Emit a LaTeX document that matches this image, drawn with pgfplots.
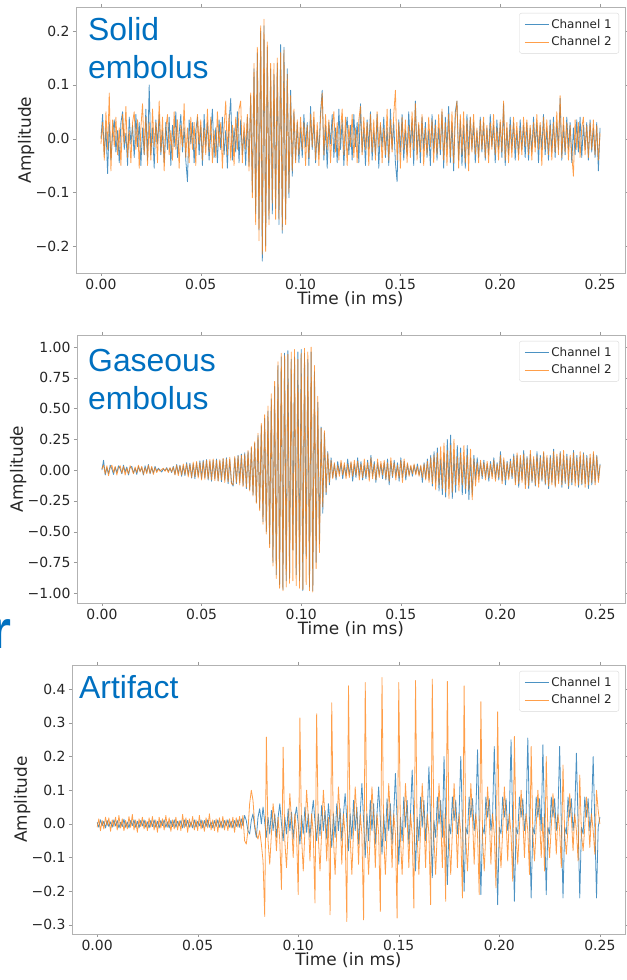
\documentclass[border=0pt]{standalone}
\usepackage{fontspec}
\setmainfont{DejaVu Sans}
\newfontfamily\arial{Liberation Sans}
\usepackage{pgfplots}
\usepackage{pgfplotstable}
\pgfplotsset{compat=1.18}

\definecolor{chone}{HTML}{1F77B4}
\definecolor{chtwo}{HTML}{FF7F0E}
\definecolor{noteblue}{HTML}{0070C0}

% columns: a = channel 1, b = channel 2; one row per sample, 1200 samples per ms
\pgfplotstableread[row sep=\\]{
a b\\
0.000 -0.010\\ 0.045 0.030\\ -0.030 -0.040\\ 0.020 0.050\\ -0.065 -0.020\\ 0.030 0.085\\ -0.040 -0.060\\ 0.010 0.035\\ 0.035 -0.015\\ -0.025 0.040\\
0.015 -0.030\\ -0.045 0.020\\ 0.030 -0.050\\ 0.050 0.045\\ -0.020 -0.010\\ 0.010 0.060\\ -0.050 -0.035\\ 0.040 0.015\\ -0.010 -0.045\\ 0.025 0.030\\
-0.035 0.050\\ 0.045 -0.020\\ -0.015 0.035\\ 0.030 -0.055\\ -0.050 0.020\\ 0.020 0.065\\ -0.030 -0.030\\ 0.055 0.040\\ -0.040 -0.050\\ 0.100 0.030\\
-0.030 -0.040\\ 0.020 0.055\\ -0.055 -0.015\\ 0.035 0.030\\ -0.010 -0.045\\ 0.045 0.070\\ -0.030 -0.025\\ 0.015 0.040\\ -0.045 -0.060\\ 0.030 0.020\\
-0.020 0.045\\ 0.040 -0.030\\ -0.050 0.015\\ 0.025 -0.040\\ -0.015 0.050\\ 0.050 -0.020\\ -0.035 0.035\\ 0.010 -0.055\\ 0.045 0.025\\ -0.025 -0.015\\
0.020 0.065\\ -0.040 -0.035\\ -0.080 0.020\\ 0.035 -0.045\\ -0.010 0.040\\ 0.030 -0.020\\ -0.045 0.030\\ 0.015 -0.050\\ 0.040 0.045\\ -0.030 -0.010\\
0.025 0.035\\ -0.050 -0.040\\ 0.045 0.020\\ -0.015 -0.030\\ 0.030 0.055\\ -0.040 -0.025\\ 0.010 0.040\\ 0.055 -0.045\\ -0.035 0.015\\ 0.020 -0.035\\
-0.045 0.050\\ 0.035 -0.015\\ -0.020 0.030\\ 0.040 -0.055\\ -0.030 0.020\\ 0.015 0.070\\ -0.055 -0.030\\ 0.030 0.045\\ 0.075 -0.040\\ -0.040 0.025\\
0.020 -0.050\\ -0.025 0.040\\ 0.050 -0.020\\ -0.045 0.055\\ 0.035 0.070\\ -0.030 -0.045\\ 0.015 0.030\\ -0.050 -0.020\\ 0.040 0.045\\ -0.050 -0.060\\
0.080 0.085\\ -0.100 -0.110\\ 0.130 0.140\\ -0.140 -0.160\\ 0.160 0.170\\ -0.170 -0.190\\ 0.200 0.210\\ -0.228 -0.215\\ 0.210 0.222\\ -0.200 -0.210\\
0.170 0.180\\ -0.150 -0.160\\ 0.130 0.140\\ -0.140 -0.120\\ 0.120 0.140\\ -0.130 -0.150\\ 0.140 0.150\\ -0.160 -0.150\\ 0.175 0.160\\ -0.176 -0.170\\
0.170 0.165\\ -0.150 -0.160\\ 0.130 0.120\\ -0.110 -0.100\\ 0.090 0.080\\ -0.070 -0.060\\ 0.050 0.055\\ -0.040 -0.045\\ 0.030 0.035\\ -0.045 -0.030\\
0.020 0.040\\ -0.035 -0.020\\ 0.045 0.030\\ -0.015 -0.050\\ 0.030 0.025\\ -0.050 -0.035\\ 0.060 0.045\\ -0.020 -0.015\\ 0.035 0.050\\ -0.045 -0.040\\
0.015 0.030\\ -0.030 -0.050\\ 0.050 0.040\\ 0.090 0.085\\ -0.040 -0.030\\ 0.025 0.045\\ -0.055 -0.020\\ 0.030 0.035\\ -0.010 -0.045\\ 0.045 0.020\\
-0.035 0.050\\ 0.020 -0.025\\ -0.045 0.030\\ 0.055 -0.040\\ -0.020 0.015\\ 0.035 0.055\\ -0.050 -0.030\\ 0.010 0.040\\ 0.040 -0.050\\ -0.030 0.025\\
0.025 -0.015\\ -0.040 0.045\\ 0.045 -0.035\\ -0.015 0.020\\ 0.030 -0.045\\ -0.045 0.035\\ 0.065 0.060\\ -0.025 -0.030\\ 0.020 0.040\\ -0.050 -0.020\\
0.035 0.030\\ -0.020 -0.050\\ 0.050 0.045\\ -0.040 -0.025\\ 0.015 0.035\\ -0.030 -0.040\\ 0.045 0.050\\ -0.055 -0.015\\ 0.025 0.030\\ -0.015 -0.045\\
0.040 0.020\\ -0.035 -0.030\\ 0.020 0.055\\ -0.050 -0.040\\ 0.055 0.035\\ -0.020 -0.025\\ 0.030 0.045\\ -0.045 0.090\\ -0.080 -0.040\\ 0.035 0.030\\
-0.025 -0.055\\ 0.045 0.040\\ -0.040 -0.020\\ 0.015 0.035\\ -0.030 -0.045\\ 0.050 0.025\\ -0.015 -0.035\\ 0.035 0.050\\ -0.050 -0.020\\ 0.070 0.065\\
-0.030 -0.040\\ 0.025 0.030\\ -0.045 -0.025\\ 0.040 0.045\\ -0.020 -0.050\\ 0.030 0.020\\ -0.035 -0.030\\ 0.015 0.040\\ -0.050 -0.015\\ 0.045 0.035\\
-0.025 -0.045\\ 0.035 0.025\\ -0.040 -0.030\\ 0.020 0.045\\ -0.030 -0.020\\ 0.050 0.055\\ -0.055 -0.040\\ 0.040 0.030\\ -0.020 -0.050\\ 0.060 0.045\\
-0.045 -0.035\\ 0.030 0.050\\ -0.060 -0.045\\ 0.050 0.040\\ 0.070 0.070\\ -0.040 -0.055\\ 0.035 0.045\\ -0.050 -0.030\\ 0.025 0.050\\ -0.055 -0.045\\
0.045 0.035\\ -0.030 -0.060\\ 0.040 0.040\\ -0.020 -0.025\\ 0.030 0.045\\ -0.045 -0.030\\ 0.015 0.020\\ -0.035 -0.045\\ 0.040 0.035\\ -0.025 -0.020\\
0.030 0.040\\ -0.040 -0.035\\ 0.020 0.025\\ -0.030 -0.045\\ 0.045 0.030\\ -0.015 -0.020\\ 0.025 0.045\\ -0.045 -0.030\\ 0.035 0.020\\ -0.020 -0.040\\
0.030 0.035\\ -0.035 -0.025\\ 0.065 0.070\\ -0.050 -0.040\\ 0.020 0.030\\ -0.030 -0.045\\ 0.040 0.025\\ -0.020 -0.035\\ 0.030 0.040\\ -0.040 -0.020\\
0.015 0.030\\ -0.030 -0.040\\ 0.035 0.020\\ -0.020 -0.030\\ 0.025 0.040\\ -0.035 -0.015\\ 0.030 0.035\\ -0.040 -0.030\\ 0.020 0.025\\ -0.025 -0.040\\
0.040 0.030\\ -0.015 -0.025\\ 0.030 0.045\\ -0.045 -0.020\\ 0.025 0.030\\ -0.020 -0.050\\ 0.045 0.040\\ -0.030 -0.020\\ 0.020 0.035\\ -0.040 -0.030\\
0.035 0.025\\ -0.025 -0.040\\ 0.040 0.030\\ -0.035 -0.025\\ 0.030 0.050\\ -0.020 -0.030\\ 0.075 0.080\\ -0.040 -0.035\\ 0.025 0.040\\ -0.030 -0.025\\
0.040 0.030\\ -0.020 -0.040\\ 0.030 0.025\\ -0.045 -0.030\\ 0.020 -0.070\\ -0.030 0.035\\ 0.035 -0.020\\ -0.025 0.030\\ 0.040 -0.035\\ -0.035 0.020\\
0.025 0.040\\ -0.020 -0.030\\ 0.030 0.025\\ -0.040 -0.035\\ 0.035 0.030\\ -0.025 -0.020\\ 0.020 0.035\\ -0.035 -0.030\\ 0.030 0.025\\ -0.060 -0.040\\
0.020 0.010\\
}\solid

\pgfplotstableread[row sep=\\]{
a b\\
0.000 0.010\\ 0.080 0.040\\ -0.040 -0.030\\ 0.020 0.035\\ -0.030 -0.045\\ 0.040 0.020\\ 0.010 0.040\\ -0.035 -0.020\\ 0.025 0.030\\ -0.020 -0.040\\
0.035 0.020\\ 0.010 0.035\\ -0.030 -0.025\\ 0.040 0.030\\ -0.015 -0.040\\ 0.025 0.015\\ -0.040 -0.030\\ 0.020 0.035\\ 0.030 0.010\\ -0.025 -0.030\\
0.015 0.025\\ -0.035 -0.020\\ 0.030 0.040\\ -0.010 -0.015\\ 0.020 0.030\\ -0.040 -0.035\\ 0.035 0.020\\ -0.020 -0.030\\ 0.045 0.040\\ -0.030 -0.025\\
0.020 0.030\\ -0.025 -0.035\\ 0.030 0.020\\ -0.010 -0.020\\ 0.015 0.010\\ 0.000 -0.010\\ -0.015 0.005\\ 0.010 0.015\\ -0.005 -0.010\\ 0.020 0.015\\
-0.010 -0.020\\ 0.015 0.020\\ -0.020 -0.015\\ 0.030 0.025\\ -0.035 -0.040\\ 0.045 0.040\\ -0.030 -0.045\\ 0.040 0.035\\ -0.050 -0.040\\ 0.035 0.050\\
-0.045 -0.035\\ 0.060 0.050\\ -0.040 -0.055\\ 0.055 0.045\\ -0.065 -0.060\\ 0.050 0.065\\ -0.070 -0.055\\ 0.060 0.070\\ -0.050 -0.065\\ 0.075 0.060\\
-0.070 -0.080\\ 0.080 0.070\\ -0.060 -0.075\\ 0.085 0.080\\ -0.080 -0.070\\ 0.070 0.085\\ -0.090 -0.080\\ 0.080 0.090\\ -0.070 -0.085\\ 0.090 0.080\\
-0.085 -0.090\\ 0.075 0.085\\ -0.095 -0.080\\ 0.090 0.095\\ -0.080 -0.100\\ 0.100 0.090\\ -0.110 -0.095\\ 0.085 0.105\\ -0.100 -0.110\\ -0.130 -0.120\\
0.100 0.110\\ -0.110 -0.100\\ 0.120 0.115\\ -0.100 -0.120\\ 0.130 0.120\\ -0.125 -0.135\\ 0.140 0.130\\ -0.150 -0.140\\ 0.150 0.160\\ -0.160 -0.170\\
0.180 0.190\\ -0.200 -0.210\\ 0.220 0.230\\ -0.260 -0.270\\ 0.280 0.300\\ -0.310 -0.330\\ 0.360 0.380\\ -0.420 -0.440\\ 0.420 0.450\\ -0.500 -0.520\\
0.480 0.520\\ -0.600 -0.630\\ 0.580 0.620\\ -0.750 -0.780\\ 0.680 0.720\\ -0.850 -0.880\\ 0.850 0.880\\ -0.930 -0.960\\ 0.920 0.950\\ -0.970 -0.980\\
0.950 0.930\\ -0.900 -0.950\\ 0.970 0.940\\ -0.880 -0.920\\ 0.900 0.960\\ -0.650 -0.900\\ 0.920 0.980\\ -0.850 -0.940\\ 0.960 0.900\\ -0.900 -0.960\\
0.980 0.950\\ -0.980 -0.970\\ 0.950 0.990\\ -0.700 -0.930\\ 0.900 0.960\\ -0.950 -0.980\\ 0.960 1.000\\ -0.980 -0.990\\ 0.800 0.850\\ -0.750 -0.800\\
0.550 0.600\\ -0.600 -0.670\\ 0.350 0.340\\ -0.350 -0.300\\ 0.300 0.320\\ -0.200 -0.180\\ 0.150 0.140\\ -0.120 -0.100\\ 0.100 0.080\\ -0.060 -0.070\\
0.050 0.060\\ -0.080 -0.060\\ 0.070 0.040\\ -0.030 -0.050\\ 0.060 0.080\\ -0.070 -0.040\\ 0.040 0.060\\ -0.050 -0.070\\ 0.090 0.050\\ -0.040 -0.060\\
0.060 0.070\\ -0.090 -0.050\\ 0.050 0.080\\ -0.060 -0.040\\ 0.100 0.070\\ -0.050 -0.080\\ 0.070 0.050\\ -0.080 -0.060\\ 0.040 0.090\\ -0.070 -0.050\\
0.080 0.060\\ -0.060 -0.090\\ 0.120 0.100\\ -0.050 -0.070\\ 0.070 0.050\\ -0.100 -0.080\\ 0.060 0.090\\ -0.040 -0.060\\ 0.050 0.070\\ -0.070 -0.040\\
0.060 0.080\\ -0.080 -0.070\\ 0.090 0.060\\ -0.120 -0.090\\ 0.070 0.100\\ -0.060 -0.050\\ 0.080 0.060\\ -0.050 -0.080\\ 0.060 0.040\\ -0.090 -0.060\\
0.100 0.080\\ -0.060 -0.100\\ 0.070 0.090\\ -0.080 -0.050\\ 0.050 0.060\\ -0.040 -0.050\\ 0.030 0.040\\ -0.050 -0.030\\ 0.040 0.050\\ -0.030 -0.040\\
0.050 0.030\\ -0.040 -0.050\\ 0.030 0.040\\ -0.100 -0.060\\ 0.060 0.050\\ -0.070 -0.080\\ 0.090 0.070\\ -0.080 -0.100\\ 0.120 0.100\\ -0.130 -0.110\\
0.150 0.120\\ -0.100 -0.160\\ 0.180 0.140\\ -0.170 -0.120\\ 0.090 0.190\\ -0.200 -0.150\\ 0.140 0.220\\ -0.220 -0.180\\ 0.250 0.160\\ -0.150 -0.230\\
0.285 0.200\\ -0.230 -0.180\\ 0.120 0.250\\ -0.180 -0.120\\ 0.200 0.110\\ -0.100 -0.170\\ 0.180 0.140\\ -0.200 -0.120\\ 0.090 0.200\\ -0.190 -0.150\\
0.200 0.120\\ -0.240 -0.160\\ 0.100 0.170\\ -0.200 -0.240\\ 0.120 0.090\\ -0.080 -0.130\\ 0.100 0.060\\ -0.050 -0.100\\ 0.060 0.080\\ -0.070 -0.050\\
0.080 0.060\\ -0.060 -0.080\\ 0.050 0.070\\ -0.090 -0.060\\ 0.070 0.050\\ -0.050 -0.070\\ 0.100 0.080\\ -0.070 -0.090\\ 0.060 0.050\\ -0.080 -0.060\\
0.150 0.120\\ -0.090 -0.110\\ 0.080 0.100\\ -0.120 -0.080\\ 0.070 0.060\\ -0.060 -0.080\\ 0.090 0.070\\ -0.070 -0.050\\ 0.130 0.110\\ -0.100 -0.120\\
0.120 0.140\\ -0.140 -0.110\\ 0.100 0.120\\ -0.080 -0.100\\ 0.160 0.130\\ -0.120 -0.150\\ 0.110 0.100\\ -0.150 -0.130\\ 0.130 0.160\\ -0.100 -0.090\\
0.090 0.110\\ -0.130 -0.120\\ 0.150 0.120\\ -0.110 -0.140\\ 0.120 0.100\\ -0.090 -0.080\\ 0.140 0.150\\ -0.120 -0.110\\ 0.100 0.120\\ -0.150 -0.130\\
0.120 0.100\\ -0.100 -0.120\\ 0.170 0.150\\ -0.130 -0.140\\ 0.110 0.130\\ -0.090 -0.110\\ 0.150 0.140\\ -0.140 -0.120\\ 0.120 0.160\\ -0.110 -0.100\\
0.130 0.110\\ -0.150 -0.130\\ 0.100 0.120\\ -0.120 -0.100\\ 0.160 0.140\\ -0.100 -0.130\\ 0.120 0.100\\ -0.140 -0.120\\ 0.110 0.150\\ -0.120 -0.110\\
0.140 0.130\\ -0.110 -0.140\\ 0.120 0.100\\ -0.150 -0.120\\ 0.100 0.130\\ -0.120 -0.100\\ 0.130 0.150\\ -0.100 -0.120\\ 0.120 0.110\\ -0.080 -0.100\\
0.050 0.040\\
}\gaseous

\pgfplotstableread[row sep=\\]{
a b\\
0.005 -0.010\\ -0.010 0.015\\ 0.012 -0.020\\ -0.005 0.010\\ 0.008 -0.015\\ -0.012 0.020\\ 0.010 -0.005\\ -0.008 0.018\\ 0.006 -0.022\\ -0.010 0.012\\
0.012 -0.008\\ -0.006 0.020\\ 0.010 -0.018\\ -0.012 0.025\\ 0.005 -0.012\\ -0.008 0.015\\ 0.014 -0.020\\ -0.010 0.010\\ 0.006 -0.015\\ -0.012 0.022\\
0.010 -0.010\\ -0.005 0.028\\ 0.012 -0.018\\ -0.010 0.012\\ 0.008 -0.025\\ -0.012 0.015\\ 0.010 -0.008\\ -0.006 0.020\\ 0.012 -0.015\\ -0.010 0.010\\
0.006 -0.020\\ -0.012 0.018\\ 0.010 -0.010\\ -0.008 0.022\\ 0.012 -0.018\\ -0.010 0.012\\ 0.008 -0.025\\ -0.012 0.020\\ 0.010 -0.012\\ -0.005 0.015\\
0.012 -0.018\\ -0.010 0.025\\ 0.006 -0.010\\ -0.012 0.018\\ 0.010 -0.022\\ -0.008 0.012\\ 0.012 -0.015\\ -0.010 0.020\\ 0.008 -0.018\\ -0.006 0.010\\
0.010 -0.020\\ -0.012 0.028\\ 0.012 -0.012\\ -0.008 0.018\\ 0.010 -0.025\\ -0.010 0.015\\ 0.006 -0.010\\ -0.012 0.022\\ 0.012 -0.018\\ -0.010 0.012\\
0.008 -0.020\\ -0.006 0.025\\ 0.012 -0.015\\ -0.012 0.010\\ 0.010 -0.022\\ -0.008 0.018\\ 0.012 -0.012\\ -0.010 0.030\\ 0.006 -0.018\\ -0.012 0.012\\
0.010 -0.020\\ -0.008 0.015\\ 0.012 -0.025\\ -0.010 0.018\\ 0.008 -0.012\\ -0.012 0.022\\ 0.010 -0.018\\ -0.006 0.012\\ 0.012 -0.020\\ -0.010 0.015\\
0.008 -0.012\\ -0.012 0.020\\ 0.010 -0.025\\ -0.008 0.018\\ 0.012 -0.010\\ -0.010 0.022\\ 0.015 -0.015\\ -0.005 0.025\\ 0.025 -0.050\\ 0.010 -0.060\\
-0.020 -0.020\\ -0.030 0.060\\ 0.010 0.100\\ 0.030 0.070\\ -0.010 0.000\\ -0.040 -0.030\\ 0.020 -0.045\\ 0.045 -0.020\\ 0.000 -0.060\\ 0.050 -0.110\\
0.005 -0.275\\ -0.040 0.258\\ 0.020 -0.050\\ -0.030 -0.120\\ 0.040 -0.030\\ -0.020 0.060\\ 0.030 0.010\\ -0.040 -0.080\\ 0.020 0.020\\ 0.060 -0.050\\
0.000 -0.195\\ -0.050 0.228\\ 0.020 -0.050\\ -0.030 -0.130\\ 0.045 -0.020\\ -0.020 0.090\\ 0.035 0.010\\ -0.045 -0.100\\ 0.020 0.030\\ 0.050 -0.030\\
0.000 -0.210\\ -0.060 0.315\\ 0.025 -0.040\\ -0.030 -0.140\\ 0.050 -0.020\\ -0.025 0.100\\ 0.030 0.020\\ -0.040 -0.110\\ 0.025 0.030\\ 0.070 -0.030\\
0.005 -0.235\\ -0.050 0.327\\ 0.030 -0.040\\ -0.035 -0.140\\ 0.055 -0.020\\ -0.020 0.100\\ 0.040 0.020\\ -0.045 -0.110\\ 0.060 0.020\\ 0.000 -0.270\\
-0.070 0.360\\ 0.030 -0.040\\ -0.040 -0.150\\ 0.060 -0.020\\ -0.020 0.110\\ 0.045 0.020\\ -0.050 -0.120\\ 0.030 0.030\\ 0.090 -0.030\\ 0.010 -0.290\\
-0.080 0.410\\ 0.030 -0.040\\ -0.045 -0.150\\ 0.070 -0.020\\ -0.020 0.110\\ 0.050 0.020\\ -0.060 -0.120\\ 0.030 0.030\\ 0.120 -0.030\\ 0.010 -0.285\\
-0.100 0.420\\ 0.030 -0.040\\ -0.050 -0.150\\ 0.070 -0.020\\ -0.020 0.110\\ 0.060 0.020\\ -0.060 -0.130\\ 0.030 0.030\\ 0.110 -0.030\\ 0.010 -0.260\\
-0.090 0.435\\ 0.030 -0.040\\ -0.050 -0.150\\ 0.075 -0.020\\ -0.020 0.120\\ 0.060 0.020\\ -0.060 -0.130\\ 0.030 0.030\\ 0.150 -0.030\\ 0.010 -0.280\\
-0.120 0.420\\ 0.020 -0.040\\ -0.050 -0.150\\ 0.080 -0.020\\ -0.010 0.120\\ 0.070 0.020\\ -0.060 -0.130\\ 0.030 0.030\\ 0.160 -0.030\\ 0.010 -0.250\\
-0.140 0.426\\ 0.020 -0.040\\ -0.050 -0.150\\ 0.080 -0.020\\ -0.010 0.120\\ 0.070 0.020\\ -0.050 -0.130\\ 0.030 0.030\\ 0.170 -0.030\\ 0.010 -0.240\\
-0.160 0.430\\ 0.010 -0.040\\ -0.040 -0.150\\ 0.080 -0.020\\ 0.000 0.120\\ 0.070 0.020\\ -0.040 -0.130\\ 0.200 0.030\\ 0.010 -0.230\\ -0.180 0.423\\
0.000 -0.040\\ -0.030 -0.150\\ 0.080 -0.020\\ 0.010 0.120\\ 0.070 0.020\\ -0.030 -0.130\\ 0.030 0.030\\ 0.200 -0.030\\ 0.000 -0.220\\ -0.200 0.410\\
-0.010 -0.040\\ -0.030 -0.140\\ 0.080 -0.020\\ 0.020 0.120\\ 0.075 0.020\\ -0.020 -0.120\\ 0.030 0.030\\ 0.220 -0.030\\ 0.000 -0.210\\ -0.210 0.363\\
-0.010 -0.040\\ -0.030 -0.140\\ 0.080 -0.020\\ 0.020 0.110\\ 0.075 0.020\\ -0.020 -0.120\\ 0.030 0.030\\ 0.230 -0.030\\ 0.000 -0.190\\ -0.240 0.333\\
-0.010 -0.040\\ -0.030 -0.130\\ 0.080 -0.020\\ 0.020 0.110\\ 0.075 0.020\\ -0.020 -0.110\\ 0.030 0.030\\ 0.250 -0.030\\ 0.000 -0.170\\ -0.230 0.260\\
-0.010 -0.030\\ -0.030 -0.120\\ 0.080 -0.010\\ 0.020 0.100\\ 0.075 0.020\\ -0.020 -0.100\\ 0.030 0.030\\ 0.255 -0.020\\ 0.000 -0.150\\ -0.220 0.230\\
-0.010 -0.030\\ -0.030 -0.110\\ 0.080 -0.010\\ 0.020 0.100\\ 0.075 0.020\\ -0.020 -0.100\\ 0.235 0.020\\ 0.000 -0.140\\ -0.210 0.200\\ -0.010 -0.030\\
-0.030 -0.100\\ 0.080 -0.010\\ 0.020 0.090\\ 0.075 0.020\\ -0.020 -0.090\\ 0.030 0.030\\ 0.230 -0.020\\ 0.000 -0.130\\ -0.220 0.175\\ -0.010 -0.030\\
-0.030 -0.090\\ 0.080 -0.010\\ 0.020 0.090\\ 0.075 0.020\\ -0.020 -0.080\\ 0.030 0.030\\ 0.210 -0.020\\ 0.000 -0.110\\ -0.220 0.145\\ -0.010 -0.030\\
-0.030 -0.080\\ 0.080 -0.010\\ 0.020 0.080\\ 0.075 0.020\\ -0.020 -0.070\\ 0.030 0.030\\ 0.200 -0.020\\ 0.000 -0.090\\ -0.220 0.100\\ -0.010 0.040\\
0.020 0.000\\
}\artifact

\tikzset{
  ch1/.style={draw=chone, line width=0.8bp, opacity=0.8, line join=round},
  ch2/.style={draw=chtwo, line width=0.8bp, opacity=0.75, line join=round},
  note/.style={anchor=base west, text=noteblue, inner sep=0pt,
    font=\arial\fontsize{32}{32}\selectfont},
}

\pgfplotsset{
  panel/.style={
    scale only axis, anchor=south west,
    xmin=-0.0125, xmax=0.2625,
    xtick={0,0.05,0.1,0.15,0.2,0.25},
    xticklabels={0.00,0.05,0.10,0.15,0.20,0.25},
    axis line style={black!30},
    tick style={black!40}, tick align=outside, major tick length=3bp,
    ticklabel style={font=\fontsize{14}{14}\selectfont, text=black!85},
    xlabel={Time (in ms)}, ylabel={Amplitude},
    label style={font=\fontsize{17}{17}\selectfont, text=black!85},
    xlabel style={at={([yshift=-32bp]axis description cs:0.5,0)}, anchor=base},
    ylabel style={at={([xshift=-45bp]axis description cs:0,0.5)}, anchor=base},
    legend style={at={(1,1)}, anchor=north east, xshift=-6bp, yshift=-6bp,
      draw=black!15, rounded corners=2bp, fill=white,
      font=\fontsize{12}{14}\selectfont, text=black!85,
      inner xsep=5bp, inner ysep=4bp, row sep=3bp},
    legend cell align=left,
    legend image code/.code={\draw[##1] (0bp,0bp) -- (24bp,0bp);},
  },
}

\begin{document}
\begin{tikzpicture}
\useasboundingbox (0,0) rectangle (627bp,980bp);

% Solid embolus
\begin{axis}[panel, at={(76bp,707bp)}, width=549bp, height=266bp,
  ymin=-0.25, ymax=0.245,
  ytick={-0.2,-0.1,0,0.1,0.2},
  yticklabels={−0.2,−0.1,0.0,0.1,0.2}]
\addplot[ch1] table[x expr=\coordindex/1200, y=a]{\solid};
\addplot[ch2] table[x expr=\coordindex/1200, y=b]{\solid};
\legend{Channel 1,Channel 2}
\end{axis}

% Gaseous embolus
\begin{axis}[panel, at={(77bp,377bp)}, width=548bp, height=268bp,
  ymin=-1.08, ymax=1.098,
  ytick={-1,-0.75,-0.5,-0.25,0,0.25,0.5,0.75,1},
  yticklabels={−1.00,−0.75,−0.50,−0.25,0.00,0.25,0.50,0.75,1.00},
  ylabel style={at={([xshift=-54bp]axis description cs:0,0.5)}}]
\addplot[ch1] table[x expr=\coordindex/1200, y=a]{\gaseous};
\addplot[ch2] table[x expr=\coordindex/1200, y=b]{\gaseous};
\legend{Channel 1,Channel 2}
\end{axis}

% Artifact
\begin{axis}[panel, at={(72bp,46bp)}, width=553bp, height=269bp,
  ymin=-0.327, ymax=0.472,
  ytick={-0.3,-0.2,-0.1,0,0.1,0.2,0.3,0.4},
  yticklabels={−0.3,−0.2,−0.1,0.0,0.1,0.2,0.3,0.4}]
\addplot[ch1] table[x expr=\coordindex/1200, y=a]{\artifact};
\addplot[ch2] table[x expr=\coordindex/1200, y=b]{\artifact};
\legend{Channel 1,Channel 2}
\end{axis}

\node[note] at (88bp,939bp) {Solid};
\node[note] at (88bp,901bp) {embolus};
\node[note] at (88bp,608bp) {Gaseous};
\node[note] at (88bp,570bp) {embolus};
\node[note] at (79bp,281bp) {Artifact};
\node[anchor=base west, inner sep=0pt, text=noteblue,
  font=\arial\bfseries\fontsize{54}{54}\selectfont] at (-10bp,331bp) {r};
\end{tikzpicture}
\end{document}
